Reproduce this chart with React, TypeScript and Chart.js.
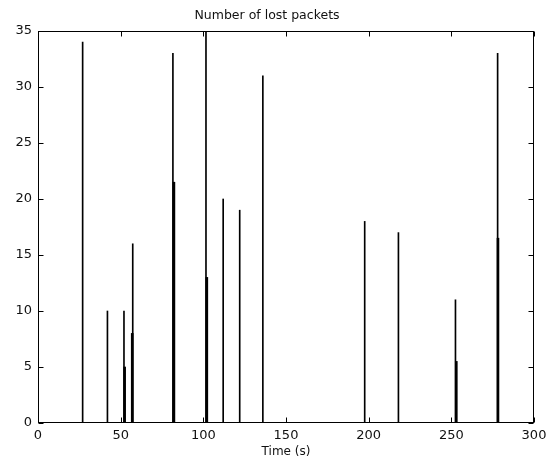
import React, { useEffect, useRef } from "react";
import { Chart, registerables } from "chart.js";

Chart.register(...registerables);

const titleText = "Number of lost packets";
const xAxisLabel = "Time (s)";
const xTickValues = [0, 50, 100, 150, 200, 250, 300];
const yTickValues = [0, 5, 10, 15, 20, 25, 30, 35];

// tall (thin) stems
const stemTimes = [27, 42, 52, 57.3, 81.6, 101.6, 112, 122, 136, 197.6, 218, 252.5, 278];
const stemValues = [34, 10, 10, 16, 33, 35, 20, 19, 31, 18, 17, 11, 33];

// overlapping shorter stems (appear thicker)
const overlapTimes = [52.4, 57, 82.2, 102.1, 253, 278.2];
const overlapValues = [5, 8, 21.5, 13, 5.5, 16.5];

const FONT = "'DejaVu Sans', 'Liberation Sans', sans-serif";
const TEXT_COLOR = "#111";

const boxPlugin = {
  id: "matlabBox",
  afterDatasetsDraw(chart: any) {
    const { ctx, chartArea: a, scales } = chart;
    const L = Math.round(a.left) + 0.5;
    const R = Math.round(a.right) - 0.5;
    const T = Math.round(a.top) + 0.5;
    const B = Math.round(a.bottom) - 0.5;
    ctx.save();
    ctx.strokeStyle = "#000";
    ctx.lineWidth = 1;
    ctx.strokeRect(L, T, R - L, B - T);
    const tl = 5;
    ctx.beginPath();
    for (const v of xTickValues) {
      const px = Math.round(scales.x.getPixelForValue(v)) + 0.5;
      ctx.moveTo(px, B);
      ctx.lineTo(px, B - tl);
      ctx.moveTo(px, T);
      ctx.lineTo(px, T + tl);
    }
    for (const v of yTickValues) {
      const py = Math.round(scales.y.getPixelForValue(v)) + 0.5;
      ctx.moveTo(L, py);
      ctx.lineTo(L + tl, py);
      ctx.moveTo(R, py);
      ctx.lineTo(R - tl, py);
    }
    ctx.stroke();
    ctx.restore();
  },
};

export default function App() {
  const ref = useRef<HTMLCanvasElement | null>(null);

  useEffect(() => {
    if (!ref.current) return;
    const thin = stemTimes.map((t, i) => ({ x: t, y: stemValues[i] }));
    const thick = overlapTimes.map((t, i) => ({ x: t, y: overlapValues[i] }));
    const chart = new Chart(ref.current, {
      type: "bar",
      data: {
        datasets: [
          {
            label: "lost",
            data: thin,
            backgroundColor: "#000",
            borderWidth: 0,
            barThickness: 1,
            grouped: false,
          } as any,
          {
            label: "lost2",
            data: thick,
            backgroundColor: "#000",
            borderWidth: 0,
            barThickness: 2,
            grouped: false,
          } as any,
        ],
      },
      options: {
        animation: false,
        responsive: false,
        layout: { padding: { left: 0, right: 19, top: 0, bottom: 0 } },
        plugins: {
          legend: { display: false },
          tooltip: { enabled: false },
          title: {
            display: true,
            text: titleText,
            color: TEXT_COLOR,
            font: { family: FONT, size: 12.5, weight: "normal" as any },
            padding: { top: 8, bottom: 8 },
          },
        },
        scales: {
          x: {
            type: "linear",
            min: 0,
            max: 300,
            offset: false,
            grid: { display: false, drawTicks: false },
            border: { display: false },
            afterBuildTicks: (s: any) => {
              s.ticks = xTickValues.map((v) => ({ value: v }));
            },
            afterFit: (s: any) => {
              s.height = 43;
            },
            ticks: {
              color: TEXT_COLOR,
              font: { family: FONT, size: 13 },
              padding: 5,
              maxRotation: 0,
              autoSkip: false,
            },
            title: {
              display: true,
              text: xAxisLabel,
              color: TEXT_COLOR,
              font: { family: FONT, size: 12 },
              padding: { top: 0, bottom: 7 },
            },
          },
          y: {
            type: "linear",
            min: 0,
            max: 35,
            grid: { display: false, drawTicks: false },
            border: { display: false },
            afterBuildTicks: (s: any) => {
              s.ticks = yTickValues.map((v) => ({ value: v }));
            },
            afterFit: (s: any) => {
              s.width = 38;
            },
            ticks: {
              color: TEXT_COLOR,
              font: { family: FONT, size: 13 },
              padding: 6,
              autoSkip: false,
            },
          },
        },
      },
      plugins: [boxPlugin],
    });
    return () => chart.destroy();
  }, []);

  return (
    <div style={{ position: "fixed", left: 0, top: 0, width: 553, height: 466, background: "#fff" }}>
      <canvas ref={ref} width={553} height={466} style={{ display: "block" }} />
    </div>
  );
}
